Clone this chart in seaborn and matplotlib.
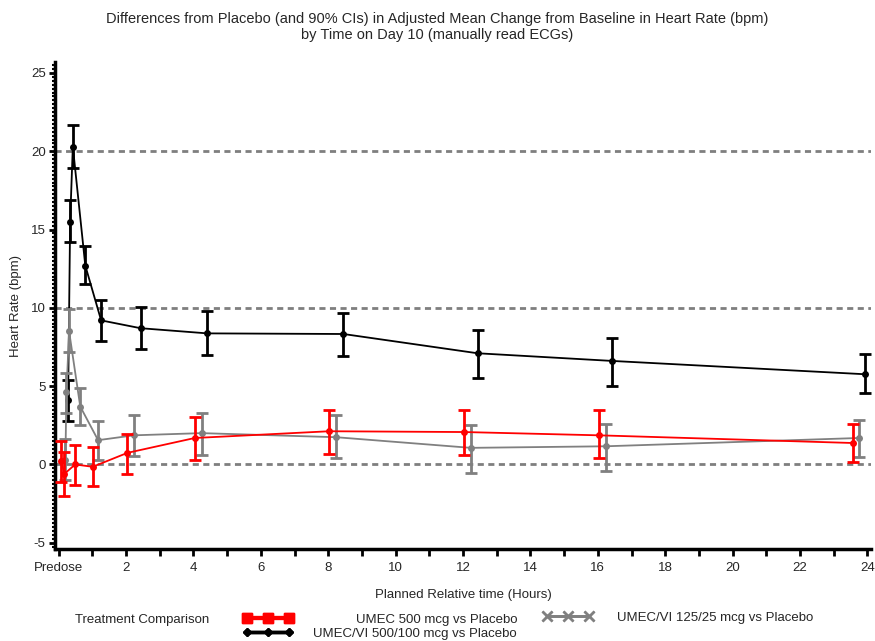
import numpy as np
import pandas as pd
import matplotlib
matplotlib.use("Agg")
import matplotlib.pyplot as plt
import seaborn as sns
from matplotlib.lines import Line2D
from matplotlib.ticker import MultipleLocator, FixedLocator

# ---------------- data ----------------
series_names = ["UMEC 500 mcg vs Placebo",
                "UMEC/VI 500/100 mcg vs Placebo",
                "UMEC/VI 125/25 mcg vs Placebo"]

red_time = [0.08, 0.17, 0.49, 1.01, 2.04, 4.04, 8.03, 12.03, 16.03, 23.56]
red_mean = [0.2, -0.6, 0.0, -0.15, 0.74, 1.69, 2.12, 2.07, 1.86, 1.37]
red_lo = [-1.1, -2.0, -1.3, -1.4, -0.6, 0.3, 0.67, 0.59, 0.42, 0.17]
red_hi = [1.5, 0.8, 1.25, 1.1, 1.95, 3.0, 3.5, 3.5, 3.45, 2.6]

black_time = [0.28, 0.34, 0.42, 0.79, 1.26, 2.43, 4.41, 8.45, 12.43, 16.43, 23.93]
black_mean = [4.1, 15.5, 20.3, 12.7, 9.2, 8.7, 8.37, 8.33, 7.1, 6.61, 5.76]
black_lo = [2.8, 14.2, 18.9, 11.55, 7.9, 7.37, 7.0, 6.95, 5.55, 5.04, 4.55]
black_hi = [5.4, 16.9, 21.7, 13.95, 10.5, 10.06, 9.8, 9.7, 8.58, 8.05, 7.03]

gray_time = [0.2, 0.23, 0.31, 0.64, 1.17, 2.23, 4.24, 8.23, 12.23, 16.23, 23.76]
gray_mean = [0.3, 4.6, 8.5, 3.7, 1.55, 1.86, 2.0, 1.74, 1.06, 1.16, 1.69]
gray_lo = [-1.0, 3.3, 7.2, 2.5, 0.3, 0.53, 0.59, 0.42, -0.53, -0.42, 0.48]
gray_hi = [1.6, 5.85, 9.95, 4.9, 2.8, 3.18, 3.28, 3.13, 2.54, 2.6, 2.81]

x_tick_values = list(range(0, 25))
x_tick_labels = ["Predose" if v == 0 else (str(v) if v % 2 == 0 else "") for v in x_tick_values]
y_tick_values = [-5, 0, 5, 10, 15, 20, 25]
ref_lines = [0, 10, 20]

title = ("Differences from Placebo (and 90% CIs) in Adjusted Mean Change from Baseline in Heart Rate (bpm)\n"
         "by Time on Day 10 (manually read ECGs)")

# ---------------- build table ----------------
frames = []
for name, t, m, lo, hi in [
    (series_names[1], black_time, black_mean, black_lo, black_hi),
    (series_names[2], gray_time, gray_mean, gray_lo, gray_hi),
    (series_names[0], red_time, red_mean, red_lo, red_hi),
]:
    frames.append(pd.DataFrame({"Treatment": name, "Time": t, "Mean": m, "Lo": lo, "Hi": hi}))
df = pd.concat(frames, ignore_index=True)

colors = {series_names[0]: "#ff0000", series_names[1]: "#000000", series_names[2]: "#808080"}

# ---------------- figure ----------------
sns.set_style("white")
plt.rcParams["font.family"] = ["Liberation Sans", "DejaVu Sans"]
plt.rcParams["axes.unicode_minus"] = False

fig = plt.figure(figsize=(8.75, 6.41), dpi=100)
ax = fig.add_axes([0.0632, 0.1435, 0.932, 0.7598])

for yv in ref_lines:
    ax.axhline(yv, color="#7f7f7f", lw=2.0, ls=(0, (2.2, 1.6)), zorder=1)

order = [series_names[1], series_names[2], series_names[0]]
for i, name in enumerate(order):
    sub = df[df["Treatment"] == name]
    c = colors[name]
    ax.errorbar(sub["Time"], sub["Mean"],
                yerr=[sub["Mean"] - sub["Lo"], sub["Hi"] - sub["Mean"]],
                fmt="none", ecolor=c, elinewidth=2.0, capsize=4, capthick=2.0,
                zorder=3 + i)
    sns.lineplot(data=sub, x="Time", y="Mean", color=c, marker="o",
                 markersize=5, markeredgewidth=0, linewidth=1.3,
                 estimator=None, sort=True, legend=False, ax=ax, zorder=3 + i)

ax.set_xlim(-0.1, 24.1)
ax.set_ylim(-5.4, 25.7)

ax.xaxis.set_major_locator(FixedLocator(x_tick_values))
ax.set_xticklabels(x_tick_labels)
ax.yaxis.set_major_locator(FixedLocator(y_tick_values))
ax.yaxis.set_minor_locator(MultipleLocator(0.25))

ax.tick_params(axis="x", which="major", direction="out", length=5, width=2,
               labelsize=9.5, pad=4, color="black", bottom=True)
ax.tick_params(axis="y", which="major", direction="out", length=4, width=2,
               labelsize=9.5, pad=3, color="black", left=True)
ax.tick_params(axis="y", which="minor", direction="out", length=2.5, width=1.5,
               color="black", left=True)

for s in ["top", "right"]:
    ax.spines[s].set_visible(False)
for s in ["left", "bottom"]:
    ax.spines[s].set_linewidth(2.5)
    ax.spines[s].set_color("black")

ax.set_xlabel("Planned Relative time (Hours)", fontsize=9.5, labelpad=11)
ax.set_ylabel("Heart Rate (bpm)", fontsize=9.5, labelpad=6)

fig.text(0.5, 1 - 27 / 641, title, ha="center", va="center", fontsize=10.5,
         linespacing=1.15)

# ---------------- legend ----------------
fig.text(75 / 875, 1 - 620 / 641, "Treatment Comparison", ha="left", va="center",
         fontsize=9.5)
legend_handles = {
    series_names[0]: Line2D([], [], color="#ff0000", lw=3, marker="s", markersize=7),
    series_names[1]: Line2D([], [], color="#000000", lw=2.5, marker="D", markersize=4),
    series_names[2]: Line2D([], [], color="#808080", lw=2, marker="x", markersize=7,
                            markeredgewidth=1.8),
}
# (handle left x, row y, label x, label alignment) in figure pixels
legend_layout = {
    series_names[0]: (243, 619, 517, "right"),
    series_names[1]: (243, 633, 517, "right"),
    series_names[2]: (543, 617, 617, "left"),
}
for name in series_names:
    hx, hy, tx, ha = legend_layout[name]
    leg = fig.legend([legend_handles[name]], [""], loc="center left",
                     bbox_to_anchor=(hx / 875, 1 - hy / 641), frameon=False,
                     numpoints=3, handlelength=3.8, handletextpad=0,
                     borderpad=0, borderaxespad=0, fontsize=9.5)
    fig.add_artist(leg)
    fig.text(tx / 875, 1 - (hy + 1) / 641, name, ha=ha, va="center", fontsize=9.5)

fig.savefig("out.png", dpi=100)
